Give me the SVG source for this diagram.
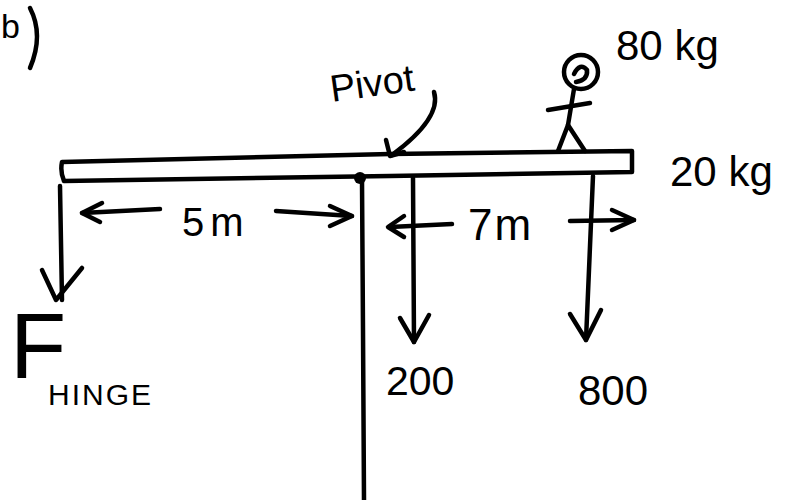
<svg xmlns="http://www.w3.org/2000/svg" width="788" height="500" viewBox="0 0 788 500">
  <style>
    .ink { fill: none; stroke: #000; stroke-width: 4.5; stroke-linecap: round; stroke-linejoin: round; }
    .lbl { font-family: "Liberation Sans", "DejaVu Sans", sans-serif; fill: #000; }
  </style>
  <rect width="788" height="500" fill="#fff"/>

  <!-- part label -->
  <g id="part-label">
    <text class="lbl" x="1" y="38" font-size="34">b</text>
    <path class="ink" d="M30 8 Q44 35 30 68"/>
  </g>

  <!-- beam -->
  <g id="beam">
    <path class="ink" d="M62 162 L390 154 L632 151 L632 172 L390 176 L64 181 Q60 172 62 162 Z"/>
  </g>

  <!-- pivot post and pin -->
  <g id="pivot">
    <path class="ink" d="M362 180 L363 330 L364 500"/>
    <circle cx="360" cy="178" r="6" fill="#000"/>
  </g>

  <!-- stick figure standing on the beam -->
  <g id="person">
    <ellipse class="ink" cx="581" cy="72" rx="17" ry="17"/>
    <path class="ink" d="M574 74 Q580 62 587 70 Q588 80 576 82"/>
    <path class="ink" d="M574 89 L568 125"/>
    <path class="ink" d="M548 110 L590 103"/>
    <path class="ink" d="M568 125 L558 151 M568 125 L585 151"/>
  </g>

  <g id="connectors">
    <!-- hinge force -->
    <path class="ink" d="M60 186 L62 300"/>
    <path class="ink" d="M42 270 L56 300 L82 268"/>
    <!-- beam weight -->
    <path class="ink" d="M413 178 L414 342"/>
    <path class="ink" d="M400 318 L414 342 L429 315"/>
    <!-- person weight -->
    <path class="ink" d="M593 176 L586 340"/>
    <path class="ink" d="M570 314 L586 340 L601 310"/>
    <!-- 5 m dimension -->
    <path class="ink" d="M160 209 L82 213"/>
    <path class="ink" d="M102 203 L82 213 L100 222"/>
    <path class="ink" d="M276 211 L352 216"/>
    <path class="ink" d="M330 206 L352 216 L330 226"/>
    <!-- 7 m dimension -->
    <path class="ink" d="M452 224 L390 227"/>
    <path class="ink" d="M404 216 L388 227 L404 237"/>
    <path class="ink" d="M570 221 L634 220"/>
    <path class="ink" d="M612 210 L634 220 L612 230"/>
    <!-- pointer to the pivot -->
    <path class="ink" d="M434 92 Q442 118 392 155"/>
    <path class="ink" d="M386 140 L390 156 L404 152"/>
  </g>

  <g id="labels">
    <text class="lbl" x="182" y="236" font-size="40" letter-spacing="6">5m</text>
    <text class="lbl" x="468" y="240" font-size="44" letter-spacing="2">7m</text>
    <text class="lbl" x="386" y="395" font-size="41">200</text>
    <text class="lbl" x="578" y="405" font-size="42">800</text>
    <text class="lbl" x="10" y="378" font-size="92">F</text>
    <text class="lbl" x="48" y="405" font-size="30" letter-spacing="2">HINGE</text>
    <text class="lbl" x="332" y="102" font-size="38" transform="rotate(-8 332 102)">Pivot</text>
    <text class="lbl" x="616" y="60" font-size="42">80 kg</text>
    <text class="lbl" x="670" y="186" font-size="42">20 kg</text>
  </g>
</svg>
